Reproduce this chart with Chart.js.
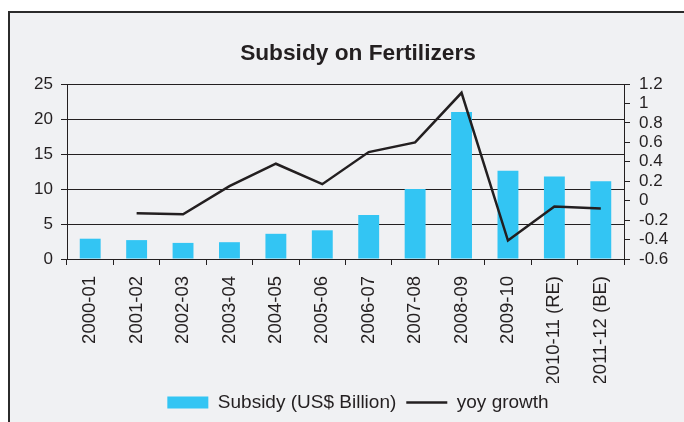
<!DOCTYPE html>
<html>
<head>
<meta charset="utf-8">
<script src="https://cdn.jsdelivr.net/npm/chart.js@4"></script>
<style>
  html, body { margin: 0; padding: 0; background: #fff; overflow: hidden; width: 684px; height: 422px; }
  #frame { position: absolute; left: 8px; top: 11px; width: 700px; height: 440px;
           border-left: 2px solid #2b2b2b; border-top: 2px solid #2b2b2b; background: #f0f1f3; }
  #subsidyChart { position: absolute; left: 16px; top: 0; }
</style>
</head>
<body>
<div id="frame"></div>
<canvas id="subsidyChart" width="684" height="422"></canvas>
<script>
  const years = ['2000-01', '2001-02', '2002-03', '2003-04', '2004-05', '2005-06',
                 '2006-07', '2007-08', '2008-09', '2009-10', '2010-11 (RE)', '2011-12 (BE)'];
  const subsidy = [2.9, 2.7, 2.3, 2.4, 3.6, 4.1, 6.3, 10.0, 21.0, 12.6, 11.8, 11.1];
  const yoyGrowth = [null, -0.13, -0.14, 0.15, 0.38, 0.17, 0.50, 0.60, 1.11, -0.41, -0.06, -0.08];

  const ink = '#231f20';
  const font = 'Liberation Sans, Arial, sans-serif';

  new Chart(document.getElementById('subsidyChart'), {
    type: 'bar',
    data: {
      labels: years,
      datasets: [
        {
          label: 'Subsidy (US$ Billion)',
          data: subsidy,
          backgroundColor: '#33c5f3',
          borderWidth: 0,
          categoryPercentage: 1,
          barPercentage: 0.45,
          pointStyle: 'rect',
          yAxisID: 'y',
          order: 2
        },
        {
          type: 'line',
          label: 'yoy growth',
          data: yoyGrowth,
          borderColor: ink,
          borderWidth: 2.5,
          tension: 0,
          pointRadius: 0,
          pointStyle: 'line',
          pointBorderColor: ink,
          pointBackgroundColor: ink,
          pointBorderWidth: 2.5,
          yAxisID: 'y1',
          order: 1
        }
      ]
    },
    options: {
      responsive: false,
      animation: false,
      layout: { padding: 0 },
      plugins: {
        title: {
          display: true,
          text: 'Subsidy on Fertilizers',
          color: ink,
          font: { family: font, size: 22.7, weight: 'bold' },
          padding: { top: 40, bottom: 16.8 }
        },
        legend: {
          position: 'bottom',
          labels: {
            usePointStyle: true,
            pointStyleWidth: 41,
            boxHeight: 12,
            padding: 10,
            color: ink,
            font: { family: font, size: 19 },
            sort: (a, b) => a.datasetIndex - b.datasetIndex
          }
        },
        tooltip: { enabled: false }
      },
      scales: {
        x: {
          offset: true,
          grid: { offset: true, drawOnChartArea: false, color: ink, tickLength: 6 },
          border: { color: ink, width: 1 },
          ticks: {
            minRotation: 90, maxRotation: 90, padding: 11, autoSkip: false,
            color: ink, font: { family: font, size: 18.5 }
          },
          afterFit: s => { s.height = 124; }
        },
        y: {
          position: 'left',
          min: 0,
          max: 25,
          ticks: { stepSize: 5, padding: 8, color: ink, font: { family: font, size: 17 } },
          grid: { color: ink, tickLength: 6 },
          border: { color: ink, width: 1 },
          afterFit: s => { s.width = 51; }
        },
        y1: {
          position: 'right',
          min: -0.6,
          max: 1.2,
          ticks: {
            stepSize: 0.2, padding: 9, autoSkip: false, color: ink,
            font: { family: font, size: 17 },
            callback: v => String(Number(v.toFixed(1)))
          },
          grid: { drawOnChartArea: false, color: ink, tickLength: 6 },
          border: { color: ink, width: 1 },
          afterFit: s => { s.width = 76; }
        }
      }
    }
  });
</script>
</body>
</html>
